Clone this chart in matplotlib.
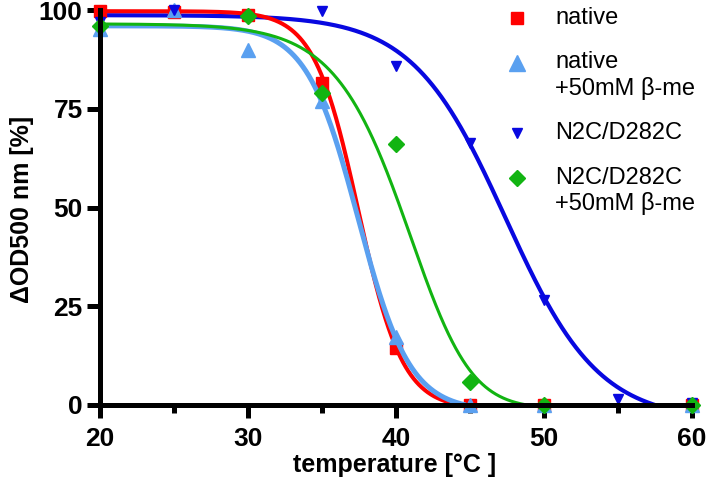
import numpy as np
import matplotlib
matplotlib.use('Agg')
import matplotlib.pyplot as plt

plt.rcParams['font.family'] = ['Liberation Sans', 'DejaVu Sans']

# ---- data ----
temps = [20, 25, 30, 35, 40, 45, 50, 60]
native = [99.8, 99.5, 98.8, 81.5, 14.5, 0, 0, 0]
native_bme = [95.3, 100, 89.8, 77.0, 17.3, 0, 0, 0]
temps_mut = [20, 25, 30, 35, 40, 45, 50, 55, 60]
mutant = [97.0, 100, 98.0, 99.8, 85.9, 66.4, 26.6, 1.4, 0.5]
temps_mut_bme = [20, 30, 35, 40, 45, 50, 60]
mutant_bme = [96.0, 98.5, 79.0, 66.2, 5.9, 0, 0]

# sigmoid fit parameters (top, bottom, midpoint, slope, asymmetry)
fit_top = [99.7, 96.0, 98.7, 96.5]
fit_bottom = [-1.0, -1.5, -4.0, -1.0]
fit_mid = [37.45, 37.44, 47.4, 42.9]
fit_slope = [1.5, 1.75, 3.15, 2.72]
fit_shape = [1.0, 1.0, 1.0, 2.0]

labels = ['native', 'native\n+50mM β-me', 'N2C/D282C', 'N2C/D282C\n+50mM β-me']
colors = ['#FF0000', '#5AA0F0', '#0808E0', '#12B412']
markers = ['s', '^', 'v', 'D']
msizes = [8, 10.5, 7.5, 8]
lwidths = [2.9, 3.6, 3.0, 2.2]
line_z = [2.2, 2.3, 2.0, 2.4]

xs = [temps, temps, temps_mut, temps_mut_bme]
ys = [native, native_bme, mutant, mutant_bme]


def richards(x, top, bottom, mid, slope, m):
    return bottom + (top - bottom) / (1 + np.exp((x - mid) / slope)) ** m


fig = plt.figure(figsize=(7.2, 4.87), dpi=100)
ax = fig.add_axes([100 / 720, 82 / 487, 592 / 720, 395 / 487])

xfit = np.linspace(20, 60, 2000)
for i in range(4):
    yfit = richards(xfit, fit_top[i], fit_bottom[i], fit_mid[i], fit_slope[i], fit_shape[i])
    keep = yfit >= 0
    ax.plot(xfit[keep], yfit[keep], color=colors[i], lw=lwidths[i],
            zorder=line_z[i], clip_on=False, solid_capstyle='butt')

for i in range(4):
    ax.plot(xs[i], ys[i], linestyle='none', marker=markers[i], ms=msizes[i],
            color=colors[i], mec=colors[i], zorder=2.1 + i * 0.1, clip_on=False)

ax.set_xlim(20, 60)
ax.set_ylim(0, 100)
ax.set_xticks([20, 30, 40, 50, 60])
ax.set_xticks([25, 35, 45, 55], minor=True)
ax.set_yticks([0, 25, 50, 75, 100])

for s in ['top', 'right']:
    ax.spines[s].set_visible(False)
for s in ['left', 'bottom']:
    ax.spines[s].set_linewidth(3.6)
    ax.spines[s].set_zorder(3)

ax.tick_params(axis='x', which='major', length=9.5, width=3.6, pad=6)
ax.tick_params(axis='x', which='minor', length=6, width=3.6)
ax.tick_params(axis='y', which='major', length=9.5, width=3.6, pad=3)

for lab in ax.get_xticklabels() + ax.get_yticklabels():
    lab.set_family(['Liberation Sans Narrow', 'Liberation Sans'])
    lab.set_weight('bold')
    lab.set_size(19)

ax.set_xlabel('temperature [°C ]', fontsize=18, fontweight='bold')
ax.set_ylabel('ΔOD500 nm [%]', fontsize=18, fontweight='bold')
ax.xaxis.set_label_coords(0.497, -0.152)
ax.xaxis.label.set_va('center')
ax.yaxis.set_label_coords(-0.132, 0.494)
ax.yaxis.label.set_va('center')

# legend drawn by hand so the marker sits on the first text line
y_px = 18
for i in range(4):
    lines = labels[i].split('\n')
    fy = 1 - y_px / 487
    fig.lines.append(plt.Line2D([517 / 720], [fy], transform=fig.transFigure,
                                marker=markers[i], ms=msizes[i] * 1.05, color=colors[i],
                                linestyle='none'))
    for k, line in enumerate(lines):
        fig.text(555 / 720, 1 - (y_px + 26 * k) / 487, line, fontsize=17,
                 ha='left', va='center')
    y_px += 26 * (len(lines) - 1) + 44.5

fig.savefig('out.png', dpi=100)
